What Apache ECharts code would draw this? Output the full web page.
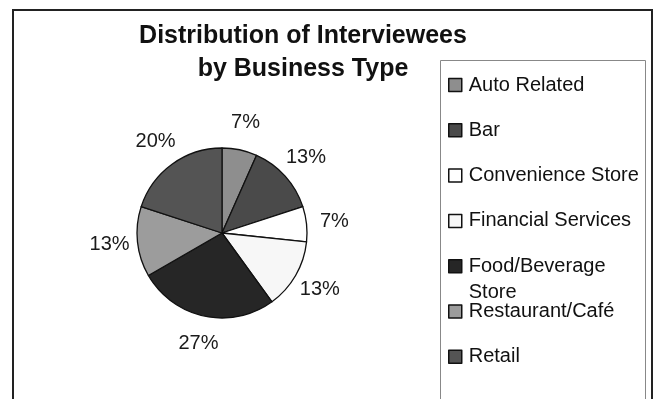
<!DOCTYPE html>
<html>
<head>
<meta charset="utf-8">
<script src="https://cdn.jsdelivr.net/npm/echarts@6/dist/echarts.min.js"></script>
<style>
html,body{margin:0;padding:0;background:#fff;}
#chart{width:657px;height:399px;}
</style>
</head>
<body>
<div id="chart"></div>
<script>
// Data (counts of interviewees, 15 total)
const categories = ['Auto Related', 'Bar', 'Convenience Store', 'Financial Services', 'Food/Beverage Store', 'Restaurant/Café', 'Retail'];
const counts = [1, 2, 1, 2, 4, 2, 3];
const sliceColors = ['#8e8e8e', '#4a4a4a', '#ffffff', '#f7f7f7', '#262626', '#9c9c9c', '#545454'];
const titleText = 'Distribution of Interviewees\nby Business Type';

const FONT = '"Liberation Sans", Arial, Helvetica, sans-serif';
const LEG_FS = 20, LEG_LH = 26, LEG_W = 178;
const LEG_FIRST = 85, LEG_STEP = 45.3;

// wrap legend text to the legend box width (like the original)
const ctx = document.createElement('canvas').getContext('2d');
ctx.font = LEG_FS + 'px ' + FONT;
function wrap(text) {
  const words = text.split(' ');
  const lines = [];
  let cur = '';
  words.forEach(w => {
    const t = cur ? cur + ' ' + w : w;
    if (cur && ctx.measureText(t).width > LEG_W) { lines.push(cur); cur = w; }
    else cur = t;
  });
  if (cur) lines.push(cur);
  return lines;
}

const pieData = categories.map((c, i) => ({ name: c, value: counts[i], itemStyle: { color: sliceColors[i] } }));
const labelData = categories.map((c, i) => ({ name: c, value: counts[i] }));

const legends = categories.map((c, i) => {
  const lines = wrap(c);
  const n = lines.length;
  // pad with empty lines above so the first line sits level with the marker
  const txt = new Array(n - 1).fill('').concat(lines).join('\n');
  return {
    orient: 'vertical',
    left: 448,
    top: LEG_FIRST + i * LEG_STEP - (2 * n - 1) * LEG_LH / 2,
    padding: 0,
    itemWidth: 13,
    itemHeight: 13,
    icon: 'rect',
    selectedMode: false,
    data: [c],
    formatter: () => txt,
    itemStyle: { borderColor: '#111', borderWidth: 1.5 },
    textStyle: {
      fontFamily: FONT, fontSize: LEG_FS, color: '#111',
      lineHeight: LEG_LH,
      padding: [0, 0, 0, 2]
    }
  };
});

const chart = echarts.init(document.getElementById('chart'), null, { renderer: 'canvas' });
chart.setOption({
  backgroundColor: '#ffffff',
  animation: false,
  title: {
    text: titleText,
    left: 303,
    top: 20,
    padding: 0,
    textAlign: 'center',
    textStyle: { fontFamily: FONT, fontSize: 25, fontWeight: 'bold', color: '#111', lineHeight: 33 }
  },
  legend: legends,
  graphic: [
    { type: 'rect', shape: { x: 13, y: 10, width: 639, height: 420 }, style: { fill: 'none', stroke: '#222', lineWidth: 2 }, silent: true, z: 0 },
    { type: 'rect', shape: { x: 440.5, y: 60.5, width: 205, height: 420 }, style: { fill: 'none', stroke: '#888', lineWidth: 1 }, silent: true, z: 0 }
  ],
  series: [
    {
      type: 'pie',
      center: [222, 233],
      radius: 85,
      startAngle: 90,
      clockwise: true,
      silent: true,
      label: { show: false },
      labelLine: { show: false },
      itemStyle: { borderColor: '#111', borderWidth: 1.3 },
      data: pieData
    },
    {
      type: 'pie',
      center: [222, 233],
      radius: [85, 135],
      startAngle: 90,
      clockwise: true,
      silent: true,
      itemStyle: { color: 'rgba(0,0,0,0)', borderWidth: 0 },
      label: {
        show: true,
        position: 'inside',
        fontFamily: FONT,
        fontSize: 20,
        color: '#1a1a1a',
        formatter: p => Math.round(p.percent) + '%'
      },
      labelLine: { show: false },
      data: labelData
    }
  ]
});
</script>
</body>
</html>
